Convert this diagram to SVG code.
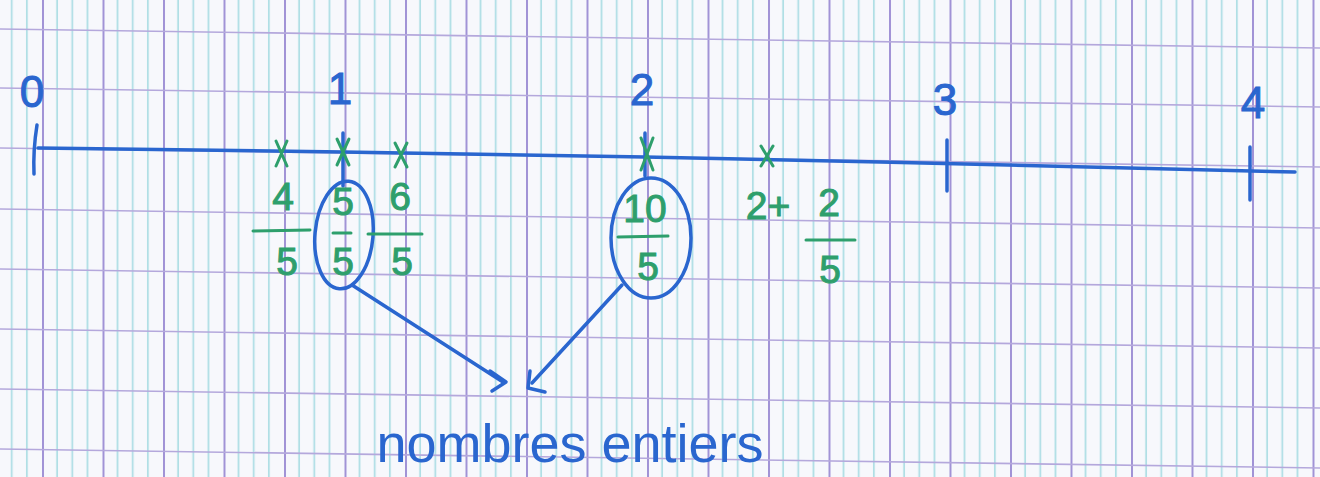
<svg xmlns="http://www.w3.org/2000/svg" width="1320" height="477" viewBox="0 0 1320 477">
<defs>
<pattern id="vgrid" patternUnits="userSpaceOnUse" x="42" y="0" width="60.5" height="477">
<line x1="15.1" y1="0" x2="15.1" y2="477" stroke="#a6dbe2" stroke-width="1.6"/>
<line x1="30.25" y1="0" x2="30.25" y2="477" stroke="#a6dbe2" stroke-width="1.6"/>
<line x1="45.4" y1="0" x2="45.4" y2="477" stroke="#a6dbe2" stroke-width="1.6"/>
<line x1="1" y1="0" x2="1" y2="477" stroke="#a193d6" stroke-width="2"/>
</pattern>
<style>
.blue{stroke:#2a66cf;fill:none;stroke-width:3.5;stroke-linecap:round;stroke-linejoin:round}
.green{stroke:#2e9f6c;fill:none;stroke-width:3;stroke-linecap:round}
.hl{stroke:#b4a8dc;stroke-width:1.6}
.bt{fill:#2a66cf;stroke:#2a66cf;stroke-width:1;font-family:"Liberation Sans",sans-serif;font-size:44px;text-anchor:middle}
.gt{fill:#2e9f6c;stroke:#2e9f6c;stroke-width:1;font-family:"Liberation Sans",sans-serif;font-size:39px;text-anchor:middle}
</style>
</defs>
<rect width="1320" height="477" fill="#f7f8fc"/>
<rect width="1320" height="477" fill="url(#vgrid)"/>
<g id="hlines">
<line class="hl" x1="0" y1="29" x2="1320" y2="48"/>
<line class="hl" x1="0" y1="88" x2="1320" y2="107"/>
<line class="hl" x1="0" y1="148" x2="1320" y2="167"/>
<line class="hl" x1="0" y1="209" x2="1320" y2="228"/>
<line class="hl" x1="0" y1="269" x2="1320" y2="288"/>
<line class="hl" x1="0" y1="329" x2="1320" y2="348"/>
<line class="hl" x1="0" y1="389" x2="1320" y2="408"/>
<line class="hl" x1="0" y1="449" x2="1320" y2="468"/>
</g>

<g id="axis">
<polyline class="blue" points="38,148 343,152 645,157 880,162 1295,172"/>
<path class="blue" d="M37,125 Q33,150 34,174"/>
<path class="blue" d="M343,133 L343,186"/>
<path class="blue" d="M645,133 L645,176"/>
<path class="blue" d="M947,140 L947,191"/>
<path class="blue" d="M1250,147 L1250,200"/>
<text class="bt" x="32" y="107">0</text>
<text class="bt" x="340" y="104">1</text>
<text class="bt" x="642" y="105">2</text>
<text class="bt" x="945" y="115">3</text>
<text class="bt" x="1253" y="118">4</text>
</g>

<g id="marks">
<path class="green" d="M276,141 L287,166 M287,141 L276,166"/>
<path class="green" d="M337,139 L349,165 M349,139 L337,165"/>
<path class="green" d="M395,143 L407,167 M407,143 L395,167"/>
<path class="green" d="M641,138 L653,170 M653,138 L641,170"/>
<path class="green" d="M761,146 L773,166 M773,146 L761,166"/>
</g>

<g id="frac-4-5">
<text class="gt" x="283" y="210">4</text>
<path class="green" d="M253,231 L310,230"/>
<text class="gt" x="287" y="275">5</text>
</g>
<g id="frac-5-5">
<text class="gt" x="343" y="215">5</text>
<path class="green" d="M333,233 L351,233"/>
<text class="gt" x="343" y="275">5</text>
<ellipse class="blue" cx="344" cy="235" rx="29" ry="54" transform="rotate(5 344 235)"/>
</g>
<g id="frac-6-5">
<text class="gt" x="400" y="210">6</text>
<path class="green" d="M368,234 L422,234"/>
<text class="gt" x="402" y="275">5</text>
</g>
<g id="frac-10-5">
<text class="gt" x="645" y="222">10</text>
<path class="green" d="M618,237 L668,236"/>
<text class="gt" x="648" y="280">5</text>
<ellipse class="blue" cx="651" cy="238" rx="40" ry="60"/>
</g>
<g id="frac-2-2-5">
<text class="gt" x="768" y="219">2+</text>
<text class="gt" x="829" y="216">2</text>
<path class="green" d="M806,240 L855,240"/>
<text class="gt" x="830" y="283">5</text>
</g>

<g id="connectors">
<path class="blue" d="M352,285 L503,382"/>
<path class="blue" d="M490,371 L506,382 L492,391"/>
<path class="blue" d="M622,285 L532,383"/>
<path class="blue" d="M530,371 L528,388 L545,392"/>
</g>

<g id="label">
<text x="570" y="462" fill="#2a66cf" font-family="Liberation Sans, sans-serif" font-size="54" text-anchor="middle">nombres entiers</text>
</g>
</svg>
